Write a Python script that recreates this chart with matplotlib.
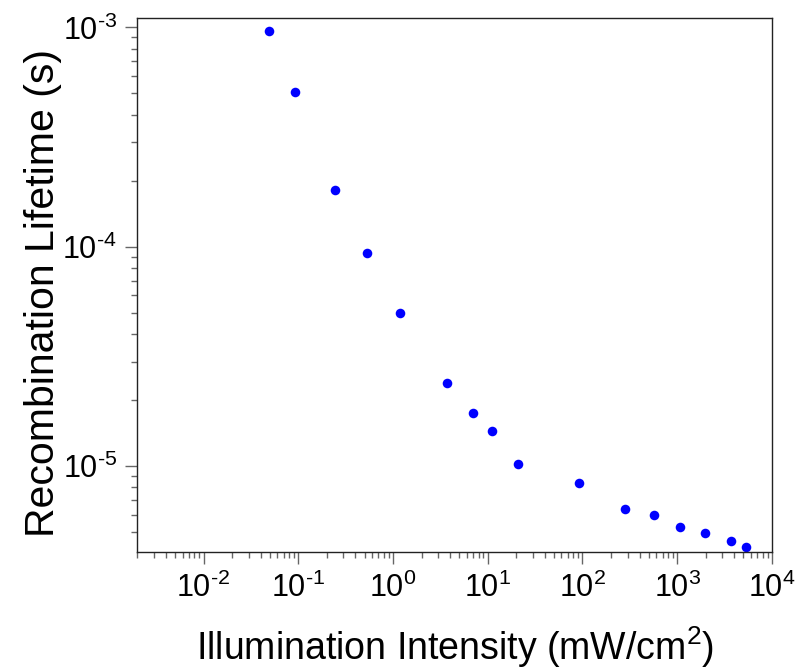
import matplotlib
matplotlib.use("Agg")
import matplotlib.pyplot as plt
import numpy as np
from matplotlib.ticker import LogLocator, FuncFormatter

# illumination intensity (mW/cm^2) and recombination lifetime (s)
intensity = [0.049, 0.092, 0.245, 0.53, 1.19, 3.68, 7.0, 11.0, 20.9, 92.7,
             279, 568, 1067, 1986, 3733, 5333]
lifetime = [9.6e-4, 5.1e-4, 1.82e-4, 9.4e-5, 5.0e-5, 2.40e-5, 1.74e-5, 1.44e-5,
            1.02e-5, 8.4e-6, 6.4e-6, 5.97e-6, 5.26e-6, 4.98e-6, 4.54e-6, 4.30e-6]
xticks = [1e-2, 1e-1, 1e0, 1e1, 1e2, 1e3, 1e4]
yticks = [1e-5, 1e-4, 1e-3]

plt.rcParams['font.family'] = ['Liberation Sans', 'DejaVu Sans']
plt.rcParams['mathtext.fontset'] = 'custom'
plt.rcParams['mathtext.rm'] = 'Liberation Sans'
plt.rcParams['mathtext.it'] = 'Liberation Sans'
plt.rcParams['mathtext.bf'] = 'Liberation Sans'


def pow_label(v, pos):
    e = int(round(np.log10(v)))
    if e < 0:
        return r'$10^{\text{-}%d}$' % (-e)
    return r'$10^{%d}$' % e


fig = plt.figure(figsize=(7.97, 6.71), dpi=100)
ax = fig.add_axes([0.1723, 0.1769, 0.7963, 0.7958])

ax.plot(intensity, lifetime, 'o', color='#0000ff', markersize=6.9, markeredgewidth=0)

ax.set_xscale('log')
ax.set_yscale('log')
ax.set_xlim(2e-3, 1e4)
ax.set_ylim(4.05e-6, 1.1e-3)

ax.set_xticks(xticks)
ax.set_yticks(yticks)
ax.xaxis.set_minor_locator(LogLocator(base=10, subs=range(2, 10), numticks=20))
ax.xaxis.set_major_formatter(FuncFormatter(pow_label))
ax.yaxis.set_major_formatter(FuncFormatter(pow_label))

for s in ax.spines.values():
    s.set_color('#222222')
    s.set_linewidth(1.0)

ax.tick_params(which='major', direction='out', length=8.6, width=1, color='#666666',
               labelsize=22, pad=6)
ax.tick_params(which='minor', direction='out', length=4.3, width=1, color='#666666')
ax.tick_params(top=False, right=False, which='both')

ax.set_xlabel('Illumination Intensity (mW/cm$^2$)', fontsize=27, va='baseline')
ax.set_ylabel('Recombination Lifetime (s)', fontsize=29.5)
ax.xaxis.set_label_coords(0.5, -0.2017)
ax.yaxis.set_label_coords(-0.119, 0.4856)

fig.savefig('out.png', dpi=100)
